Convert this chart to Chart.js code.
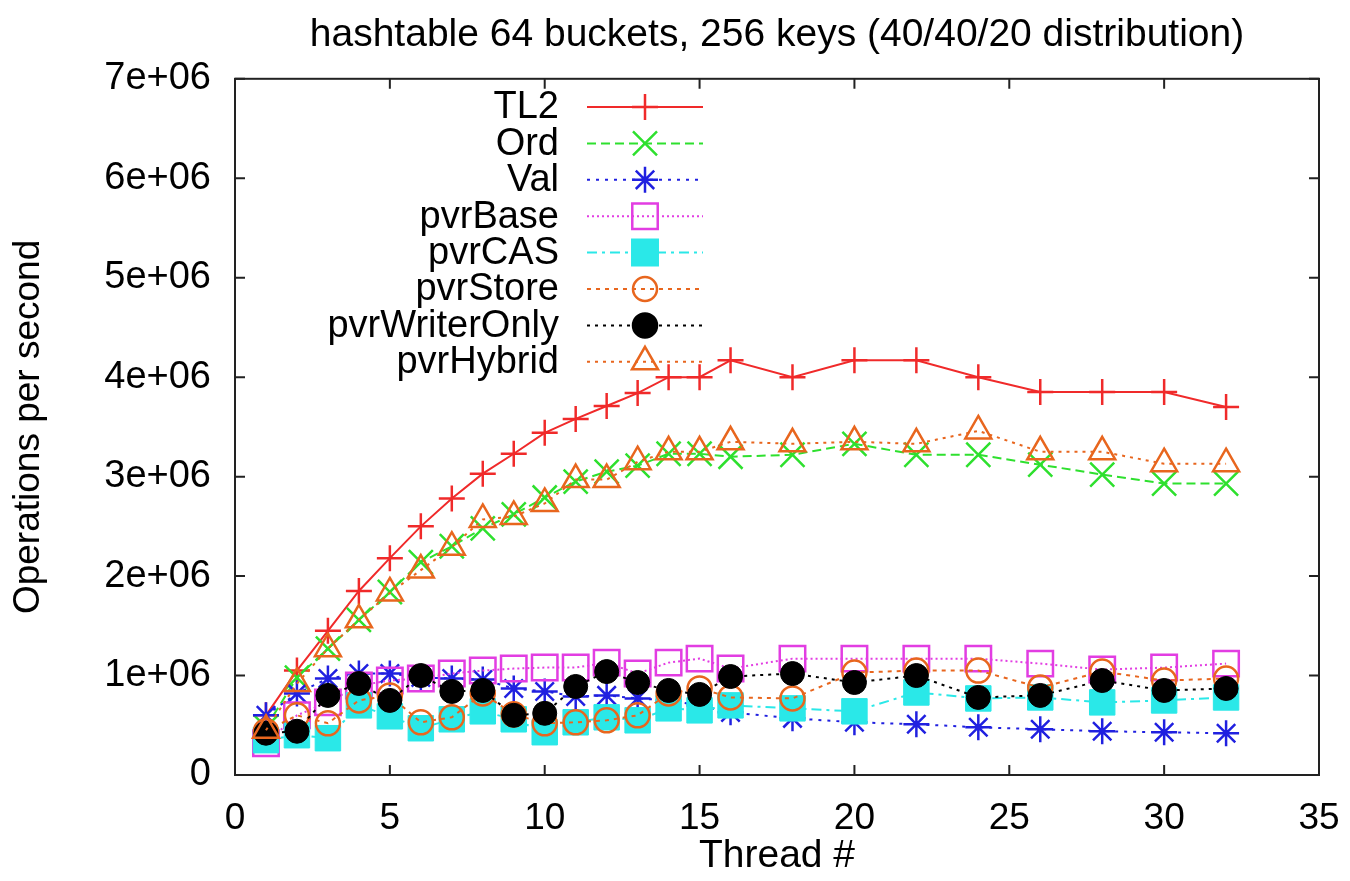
<!DOCTYPE html>
<html>
<head>
<meta charset="utf-8">
<script src="https://cdn.jsdelivr.net/npm/chart.js@4.4.1/dist/chart.umd.min.js"></script>
<style>
  html, body { margin: 0; padding: 0; background: #fff; }
  #wrap { width: 1350px; height: 881px; }
</style>
</head>
<body>
<div id="wrap"><canvas id="myChart" width="1350" height="881"></canvas></div>
<script>
// thread counts on the x axis
let threads = [1, 2, 3, 4, 5, 6, 7, 8, 9, 10, 11, 12, 13, 14, 15, 16, 18, 20, 22, 24, 26, 28, 30, 32]

// operations per second, one array per series
let tl2 = [600000, 1050000, 1450000, 1850000, 2180000, 2500000, 2780000, 3030000, 3230000, 3440000, 3580000, 3710000,
  3840000, 4000000, 4000000, 4170000, 4000000, 4170000, 4170000, 4000000, 3850000, 3850000, 3850000, 3700000]
let ord = [480000, 980000, 1270000, 1560000, 1840000, 2140000, 2300000, 2480000, 2620000, 2790000, 2950000, 3050000,
  3110000, 3230000, 3230000, 3200000, 3220000, 3330000, 3220000, 3220000, 3120000, 3020000, 2930000, 2930000]
let val = [600000, 820000, 970000, 1020000, 1020000, 980000, 970000, 960000, 870000, 840000, 790000, 800000,
  770000, 750000, 700000, 630000, 570000, 530000, 510000, 480000, 460000, 440000, 430000, 420000]
let pvrBase = [320000, 600000, 730000, 900000, 950000, 970000, 1020000, 1050000, 1070000, 1080000, 1080000, 1130000,
  1020000, 1130000, 1170000, 1070000, 1170000, 1170000, 1170000, 1170000, 1120000, 1060000, 1080000, 1120000]
let pvrCAS = [350000, 400000, 370000, 700000, 590000, 470000, 560000, 640000, 560000, 430000, 530000, 580000,
  550000, 670000, 650000, 700000, 670000, 640000, 830000, 770000, 780000, 730000, 750000, 780000]
let pvrStore = [440000, 600000, 520000, 750000, 800000, 530000, 580000, 820000, 610000, 520000, 530000, 550000,
  600000, 820000, 870000, 780000, 770000, 1030000, 1050000, 1050000, 880000, 1040000, 950000, 970000]
let pvrWriterOnly = [420000, 440000, 800000, 920000, 750000, 1000000, 840000, 850000, 600000, 620000, 890000, 1040000,
  930000, 850000, 810000, 990000, 1020000, 930000, 1000000, 780000, 800000, 950000, 850000, 870000]
let pvrHybrid = [450000, 920000, 1270000, 1560000, 1830000, 2060000, 2290000, 2570000, 2600000, 2730000, 2970000, 2970000,
  3150000, 3250000, 3250000, 3350000, 3330000, 3350000, 3330000, 3460000, 3250000, 3250000, 3130000, 3130000]

let yTicks = ["0", "1e+06", "2e+06", "3e+06", "4e+06", "5e+06", "6e+06", "7e+06"]

let fontFamily = "'Liberation Sans', Arial, Helvetica, sans-serif"
let orange = "#e8661e"

let series = [
  { label: "TL2", data: tl2, color: "#f02a2a", style: "cross", radius: 13, fill: false, dash: [] },
  { label: "Ord", data: ord, color: "#2ee02e", style: "crossRot", radius: 17, fill: false, dash: [9, 5] },
  { label: "Val", data: val, color: "#2020e0", style: "star", radius: 13, fill: false, dash: [3, 6] },
  { label: "pvrBase", data: pvrBase, color: "#e23de2", style: "rect", radius: 18, fill: false, dash: [2, 3] },
  { label: "pvrCAS", data: pvrCAS, color: "#2ae8e8", style: "rect", radius: 18, fill: true, dash: [10, 5, 3, 5] },
  { label: "pvrStore", data: pvrStore, color: orange, style: "circle", radius: 12, fill: false, dash: [4, 5] },
  { label: "pvrWriterOnly", data: pvrWriterOnly, color: "#000000", style: "circle", radius: 12, fill: true, dash: [3, 5] },
  { label: "pvrHybrid", data: pvrHybrid, color: orange, style: "triangle", radius: 15, fill: false, dash: [3, 5] }
]

let datasets = series.map((s, i) => ({
  label: s.label,
  data: threads.map((t, j) => ({ x: t, y: s.data[j] })),
  borderColor: s.color,
  backgroundColor: s.fill ? s.color : "rgba(0,0,0,0)",
  borderWidth: 2,
  borderDash: s.dash,
  pointStyle: s.style,
  pointRadius: s.radius,
  pointHoverRadius: s.radius,
  pointBorderColor: s.color,
  pointBackgroundColor: s.fill ? s.color : "rgba(0,0,0,0)",
  pointBorderWidth: s.fill ? 1 : 2.5,
  tension: 0,
  order: series.length - i
}))

// legend in the upper left of the plot, text right-aligned, sample on the right
function legendMarker(ctx, s, x, y) {
  let r = s.radius
  ctx.save()
  ctx.setLineDash([])
  ctx.lineWidth = 2.5
  ctx.strokeStyle = s.color
  ctx.fillStyle = s.color
  ctx.beginPath()
  if (s.style === "cross") {
    ctx.moveTo(x, y - r); ctx.lineTo(x, y + r)
    ctx.moveTo(x - r, y); ctx.lineTo(x + r, y)
    ctx.stroke()
  } else if (s.style === "crossRot") {
    let d = r * Math.SQRT1_2
    ctx.moveTo(x - d, y - d); ctx.lineTo(x + d, y + d)
    ctx.moveTo(x - d, y + d); ctx.lineTo(x + d, y - d)
    ctx.stroke()
  } else if (s.style === "star") {
    let d = r * Math.SQRT1_2
    ctx.moveTo(x, y - r); ctx.lineTo(x, y + r)
    ctx.moveTo(x - r, y); ctx.lineTo(x + r, y)
    ctx.moveTo(x - d, y - d); ctx.lineTo(x + d, y + d)
    ctx.moveTo(x - d, y + d); ctx.lineTo(x + d, y - d)
    ctx.stroke()
  } else if (s.style === "rect") {
    let h = r * Math.SQRT1_2
    ctx.rect(x - h, y - h, 2 * h, 2 * h)
    if (s.fill) ctx.fill()
    ctx.stroke()
  } else if (s.style === "circle") {
    ctx.arc(x, y, r, 0, Math.PI * 2)
    if (s.fill) ctx.fill()
    ctx.stroke()
  } else if (s.style === "triangle") {
    let a = -Math.PI / 2
    for (let k = 0; k < 3; k++) {
      let px = x + Math.cos(a) * r, py = y + Math.sin(a) * r
      if (k === 0) ctx.moveTo(px, py); else ctx.lineTo(px, py)
      a += Math.PI * 2 / 3
    }
    ctx.closePath()
    ctx.stroke()
  }
  ctx.restore()
}

let gnuLegend = {
  id: "gnuLegend",
  afterDraw(chart) {
    let ctx = chart.ctx
    let textRight = 559, lineL = 587, lineR = 703, markX = 645
    let y0 = 107, step = 36.4
    ctx.save()
    ctx.font = "38px " + fontFamily
    ctx.textAlign = "right"
    ctx.textBaseline = "middle"
    series.forEach((s, i) => {
      let y = y0 + i * step
      ctx.fillStyle = "#000"
      ctx.fillText(s.label, textRight, y + 1)
      ctx.save()
      ctx.strokeStyle = s.color
      ctx.lineWidth = 2
      ctx.setLineDash(s.dash)
      ctx.beginPath()
      ctx.moveTo(lineL, y)
      ctx.lineTo(lineR, y)
      ctx.stroke()
      ctx.restore()
      legendMarker(ctx, s, markX, y)
    })
    ctx.restore()
  }
}

// gnuplot style frame: full border with inward ticks on all four sides
let frame = {
  id: "frame",
  afterDatasetsDraw(chart) {
    let ctx = chart.ctx
    let a = chart.chartArea
    let xs = chart.scales.x, ys = chart.scales.y
    let tl = 10
    ctx.save()
    ctx.strokeStyle = "#222"
    ctx.lineWidth = 2
    ctx.setLineDash([])
    ctx.strokeRect(a.left, a.top, a.right - a.left, a.bottom - a.top)
    ctx.beginPath()
    xs.ticks.forEach(t => {
      let px = xs.getPixelForValue(t.value)
      ctx.moveTo(px, a.bottom); ctx.lineTo(px, a.bottom - tl)
      ctx.moveTo(px, a.top); ctx.lineTo(px, a.top + tl)
    })
    ys.ticks.forEach(t => {
      let py = ys.getPixelForValue(t.value)
      ctx.moveTo(a.left, py); ctx.lineTo(a.left + tl, py)
      ctx.moveTo(a.right, py); ctx.lineTo(a.right - tl, py)
    })
    ctx.stroke()
    ctx.restore()
  }
}

let ctx = document.getElementById("myChart").getContext("2d")

let myChart = new Chart(ctx, {
  type: "line",
  data: { datasets: datasets },
  options: {
    responsive: false,
    animation: false,
    layout: { padding: { left: 0, right: 31, top: 0, bottom: 0 } },
    plugins: {
      legend: { display: false },
      tooltip: { enabled: false },
      title: {
        display: true,
        fullSize: false,
        text: "hashtable 64 buckets, 256 keys (40/40/20 distribution)",
        color: "#000",
        font: { family: fontFamily, size: 39, weight: "normal" },
        padding: { top: 12, bottom: 20 }
      }
    },
    scales: {
      x: {
        type: "linear",
        min: 0,
        max: 35,
        grid: { display: false, drawTicks: false },
        border: { display: false },
        ticks: {
          stepSize: 5,
          padding: 22,
          color: "#000",
          maxRotation: 0,
          font: { family: fontFamily, size: 37 }
        },
        title: {
          display: true,
          text: "Thread #",
          color: "#000",
          font: { family: fontFamily, size: 39 },
          padding: { top: 1, bottom: 1 }
        },
        afterFit(scale) {
          scale.height = 106
          scale.paddingLeft = 0
          scale.paddingRight = 0
        }
      },
      y: {
        min: 0,
        max: 7000000,
        grid: { display: false, drawTicks: false },
        border: { display: false },
        ticks: {
          stepSize: 1000000,
          padding: 24,
          color: "#000",
          font: { family: fontFamily, size: 38 },
          callback: (value, index) => yTicks[index]
        },
        title: {
          display: true,
          text: "Operations per second",
          color: "#000",
          font: { family: fontFamily, size: 37 },
          padding: { top: 7, bottom: 0 }
        },
        afterFit(scale) { scale.width = 235 }
      }
    }
  },
  plugins: [frame, gnuLegend]
})
</script>
</body>
</html>
